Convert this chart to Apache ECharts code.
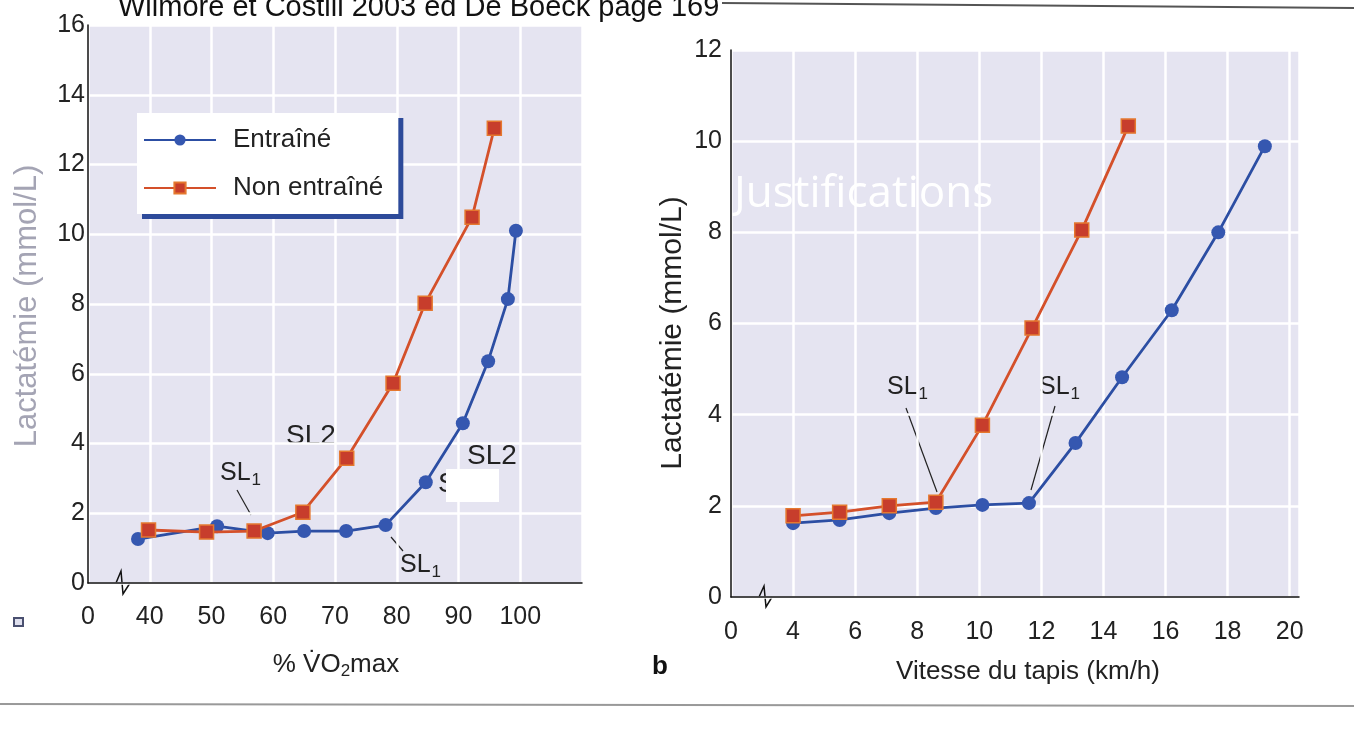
<!DOCTYPE html>
<html>
<head>
<meta charset="utf-8">
<script src="https://cdn.jsdelivr.net/npm/echarts@6/dist/echarts.min.js"></script>
<style>
    html, body { margin: 0; padding: 0; background: #fff; }
    #chart { width: 1354px; height: 729px; }
</style>
</head>
<body>
<div id="chart"></div>
<script>
// panel a : % VO2max
var vo2TrainedX = [38.1, 50.9, 59.1, 65.0, 71.8, 78.2, 84.7, 90.7, 94.8, 98.0, 99.3];
var vo2TrainedY = [1.26, 1.63, 1.43, 1.49, 1.49, 1.66, 2.89, 4.58, 6.36, 8.14, 10.1];
var vo2UntrainedX = [39.8, 49.2, 56.9, 64.8, 71.9, 79.4, 84.6, 92.2, 95.8];
var vo2UntrainedY = [1.52, 1.46, 1.49, 2.03, 3.58, 5.73, 8.02, 10.49, 13.04];

// panel b : vitesse du tapis
var speedTrainedX = [4.0, 5.5, 7.1, 8.6, 10.1, 11.6, 13.1, 14.6, 16.2, 17.7, 19.2];
var speedTrainedY = [1.62, 1.69, 1.84, 1.95, 2.02, 2.06, 3.38, 4.82, 6.29, 8.0, 9.89];
var speedUntrainedX = [4.0, 5.5, 7.1, 8.6, 10.1, 11.7, 13.3, 14.8];
var speedUntrainedY = [1.78, 1.86, 2.0, 2.08, 3.77, 5.9, 8.05, 10.33];

var seriesNames = ['Entraîné', 'Non entraîné'];
var vo2Ticks = [0, 40, 50, 60, 70, 80, 90, 100];
var speedTicks = [0, 4, 6, 8, 10, 12, 14, 16, 18, 20];

function zip(xs, ys) {
    return xs.map(function (x, i) { return [x, ys[i]]; });
}

var blue = '#2c4ea3';
var red = '#d4502a';
var font = '"Liberation Sans", Arial, sans-serif';

function xAxisOf(grid, min, max, ticks) {
    return {
        type: 'value', gridIndex: grid, min: min, max: max, interval: grid === 0 ? 10 : 2,
        axisLine: { show: true, lineStyle: { color: '#111', width: 1.5 } },
        axisTick: { show: false },
        splitLine: { show: true, lineStyle: { color: '#fff', width: 2.5 } },
        axisLabel: {
            color: '#222', fontSize: 25, fontFamily: font, margin: grid === 0 ? 22 : 23,
            showMaxLabel: grid === 1,
            formatter: function (v) {
                if (v === min) return String(ticks[0]);
                return ticks.indexOf(v) >= 0 ? String(v) : '';
            }
        }
    };
}

function yAxisOf(grid, max) {
    return {
        type: 'value', gridIndex: grid, min: 0, max: max, interval: 2,
        axisLine: { show: true, lineStyle: { color: '#111', width: 1.5 } },
        axisTick: { show: false },
        splitLine: { show: true, lineStyle: { color: '#fff', width: 2.5 } },
        axisLabel: { color: '#222', fontSize: 25, fontFamily: font, margin: grid === 0 ? 3 : 9 }
    };
}

function lineSeries(name, grid, data) {
    var trained = name === seriesNames[0];
    return {
        name: name, type: 'line', xAxisIndex: grid, yAxisIndex: grid,
        data: data,
        symbol: trained ? 'circle' : 'rect',
        symbolSize: 14,
        lineStyle: { color: trained ? blue : red, width: 2.8 },
        itemStyle: trained
            ? { color: '#3557b0' }
            : { color: '#c73d2c', borderColor: '#e5782f', borderWidth: 1.5 },
        z: trained ? 3 : 4
    };
}

function sl(x, y) {
    return {
        type: 'text', left: x, top: y,
        style: {
            text: '{a|SL}{b|1}',
            rich: {
                a: { fontSize: 25, fontFamily: font, fill: '#222' },
                b: { fontSize: 17, fontFamily: font, fill: '#222', padding: [13, 0, 0, 1] }
            }
        }
    };
}

function leader(x1, y1, x2, y2) {
    return { type: 'line', shape: { x1: x1, y1: y1, x2: x2, y2: y2 }, style: { stroke: '#222', lineWidth: 1.2 } };
}

var chart = echarts.init(document.getElementById('chart'));

var option = {
    backgroundColor: '#fff',
    animation: false,
    grid: [
        { left: 88, top: 25, width: 494, height: 558, show: true, backgroundColor: '#e5e4f1', borderWidth: 0 },
        { left: 731, top: 50, width: 568, height: 547, show: true, backgroundColor: '#e5e4f1', borderWidth: 0 }
    ],
    xAxis: [xAxisOf(0, 30, 110, vo2Ticks), xAxisOf(1, 2, 20.3, speedTicks)],
    yAxis: [yAxisOf(0, 16), yAxisOf(1, 12)],
    legend: {
        data: seriesNames,
        orient: 'vertical', left: 137, top: 113,
        selectedMode: false,
        itemWidth: 72, itemHeight: 14, itemGap: 22,
        padding: [14, 15, 13, 6],
        backgroundColor: '#fff',
        shadowColor: '#2d4a9a', shadowBlur: 0, shadowOffsetX: 5, shadowOffsetY: 5,
        textStyle: { fontSize: 26, fontFamily: font, color: '#222', padding: [0, 0, 0, 12] }
    },
    series: [
        lineSeries(seriesNames[0], 0, zip(vo2TrainedX, vo2TrainedY)),
        lineSeries(seriesNames[1], 0, zip(vo2UntrainedX, vo2UntrainedY)),
        lineSeries(seriesNames[0], 1, zip(speedTrainedX, speedTrainedY)),
        lineSeries(seriesNames[1], 1, zip(speedUntrainedX, speedUntrainedY))
    ],
    graphic: [
        // source line
        { type: 'text', left: 118, top: -7, style: { text: 'Wilmore et Costill 2003 ed De Boeck page 169', fontSize: 29, fontFamily: font, fill: '#111' } },
        { type: 'line', shape: { x1: 722, y1: 3, x2: 1354, y2: 8 }, style: { stroke: '#555', lineWidth: 2 } },
        { type: 'line', shape: { x1: 0, y1: 704, x2: 1354, y2: 706 }, style: { stroke: '#999', lineWidth: 2 } },

        // axis titles
        { type: 'text', x: 27, y: 306, rotation: Math.PI / 2, style: { text: 'Lactatémie (mmol/L)', fontSize: 31, fontFamily: font, fill: '#a4a4b4', align: 'center', verticalAlign: 'middle' } },
        { type: 'text', x: 673, y: 333, rotation: Math.PI / 2, style: { text: 'Lactatémie (mmol/L)', fontSize: 30, fontFamily: font, fill: '#222', align: 'center', verticalAlign: 'middle' } },
        {
            type: 'text', x: 336, y: 665,
            style: {
                text: '{a|% V\u0307O}{b|2}{a|max}', align: 'center', verticalAlign: 'middle',
                rich: {
                    a: { fontSize: 26, fontFamily: font, fill: '#222' },
                    b: { fontSize: 17, fontFamily: font, fill: '#222', padding: [12, 0, 0, 0] }
                }
            }
        },
        { type: 'text', x: 1028, y: 672, style: { text: 'Vitesse du tapis (km/h)', fontSize: 26, fontFamily: font, fill: '#222', align: 'center', verticalAlign: 'middle' } },
        { type: 'text', x: 660, y: 667, style: { text: 'b', fontSize: 26, fontWeight: 'bold', fontFamily: font, fill: '#111', align: 'center', verticalAlign: 'middle' } },
        { type: 'rect', shape: { x: 14, y: 618, width: 9, height: 8 }, style: { fill: '#dfe0ee', stroke: '#4a5070', lineWidth: 2 } },

        // axis breaks
        { type: 'polyline', shape: { points: [[116, 583], [121, 571], [123, 594], [130, 583]] }, style: { stroke: '#111', lineWidth: 1.5, fill: null } },
        { type: 'polyline', shape: { points: [[759, 597], [764, 586], [766, 607], [772, 597]] }, style: { stroke: '#111', lineWidth: 1.5, fill: null } },

        // panel a annotations
        { type: 'text', left: 286, top: 422, style: { text: 'SL2', fontSize: 28, fontFamily: font, fill: '#222' } },
        { type: 'text', left: 467, top: 442, style: { text: 'SL2', fontSize: 28, fontFamily: font, fill: '#222' } },
        { type: 'text', left: 438, top: 470, style: { text: 'S', fontSize: 28, fontFamily: font, fill: '#222' } },
        { type: 'rect', shape: { x: 446, y: 469, width: 53, height: 33 }, style: { fill: '#fff' } },
        sl(220, 461),
        leader(237, 490, 251, 515),
        sl(400, 553),
        leader(391, 537, 403, 551),

        // panel b annotations
        sl(887, 375),
        leader(906, 408, 937, 492),
        sl(1039, 375),
        leader(1055, 406, 1031, 490),

        { type: 'text', left: 734, top: 172, style: { text: 'Justifications', fontSize: 44, fontFamily: '"Open Sans", sans-serif', fill: '#fff' } }
    ]
};

chart.setOption(option);
</script>
</body>
</html>
